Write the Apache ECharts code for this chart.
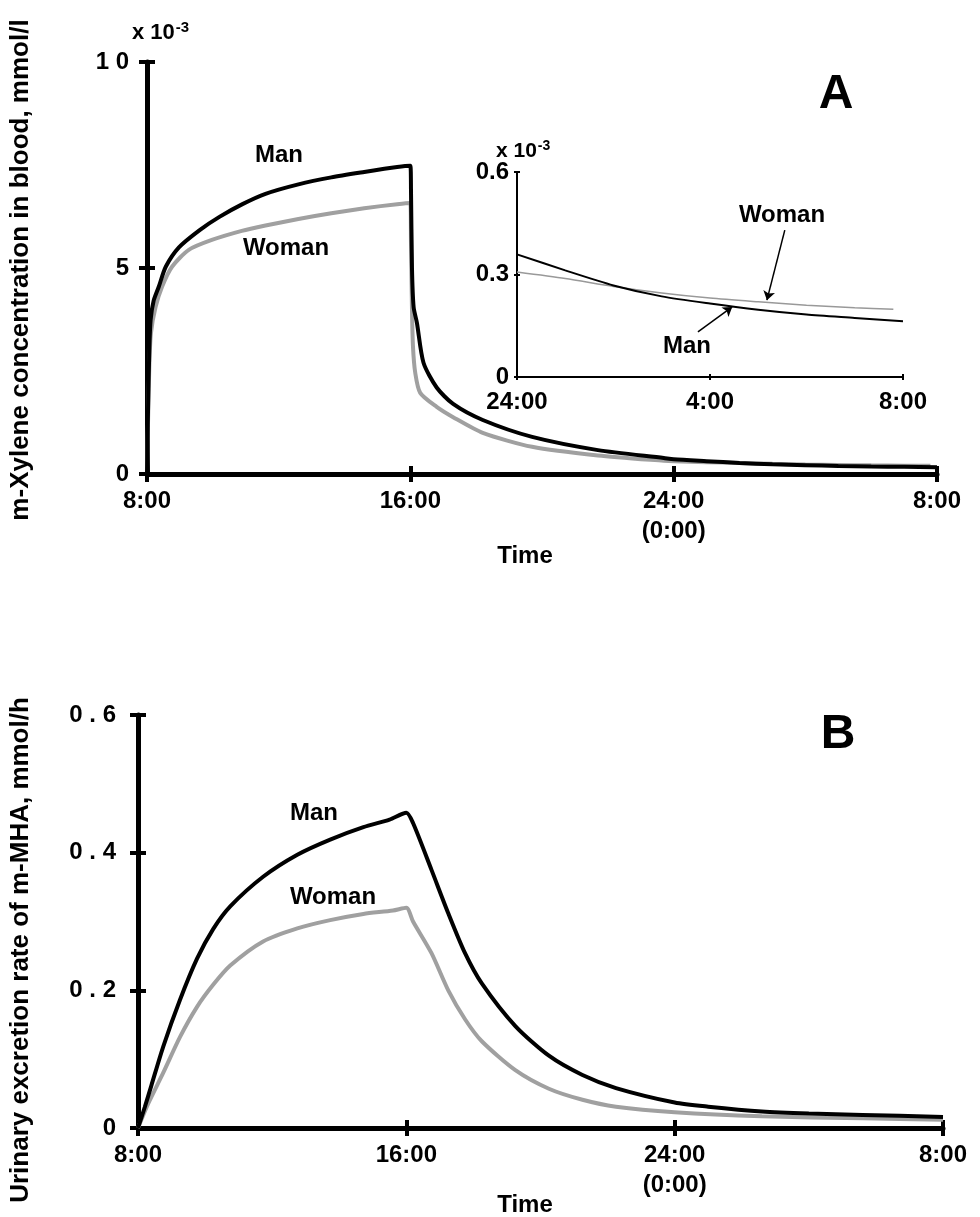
<!DOCTYPE html>
<html>
<head>
<meta charset="utf-8">
<script src="https://cdn.jsdelivr.net/npm/echarts@6/dist/echarts.min.js"></script>
<style>
html, body { margin: 0; padding: 0; background: #fff; }
#container { width: 980px; height: 1217px; }
</style>
</head>
<body>
<div id="container"></div>
<script>
// time is hours after 8:00 (0 = 8:00, 8 = 16:00, 16 = 24:00, 24 = 8:00 next day)
var xTickValues = [0, 8, 16, 24];
var xTickText = ['8:00', '16:00', '24:00\n(0:00)', '8:00'];
var insetTickValues = [16, 20, 24];
var insetTickText = ['24:00', '4:00', '8:00'];

// A: m-xylene in blood, x 10^-3 mmol/l
var manA_t = [0, 0.03, 0.07, 0.11, 0.2, 0.36, 0.57, 0.97, 1.6, 2.2, 2.9, 3.6, 4.6, 5.6, 6.6, 7.6, 8.0,
  8.02, 8.05, 8.1, 8.2, 8.4, 8.8, 9.3, 10.2, 11.7, 13.7, 15.7, 16, 17, 18, 19, 20, 21, 22, 23, 24];
var manA_v = [0, 1.5, 3.0, 3.74, 4.2, 4.55, 5.03, 5.5, 5.92, 6.24, 6.55, 6.8, 7.03, 7.2, 7.33, 7.45, 7.48,
  6.9, 5.0, 4.05, 3.67, 2.7, 2.1, 1.7, 1.31, 0.9, 0.58, 0.39, 0.359, 0.312, 0.268, 0.236, 0.215, 0.197, 0.183, 0.173, 0.163];
var womanA_t = [0, 0.03, 0.07, 0.12, 0.26, 0.46, 0.76, 1.27, 1.97, 2.88, 3.6, 4.6, 5.6, 6.6, 7.6, 8.0,
  8.02, 8.05, 8.08, 8.15, 8.3, 8.8, 9.3, 10.2, 11.7, 13.7, 15.7, 16, 17, 18, 19, 20, 21, 22, 23, 23.8];
var womanA_v = [0, 1.2, 2.6, 3.42, 4.05, 4.55, 5.03, 5.44, 5.68, 5.9, 6.03, 6.19, 6.33, 6.45, 6.55, 6.58,
  5.6, 4.0, 3.1, 2.45, 1.97, 1.63, 1.38, 1.0, 0.66, 0.45, 0.32, 0.307, 0.288, 0.265, 0.246, 0.231, 0.22, 0.21, 0.203, 0.198];

// B: urinary excretion rate of m-MHA, mmol/h
var manB_t = [0, 0.2, 0.4, 0.75, 1.25, 1.76, 2.24, 2.75, 3.73, 4.75, 5.73, 6.72, 7.5, 8.0,
  8.2, 8.75, 9.25, 9.75, 10.25, 11.25, 12.25, 13.25, 14.25, 16, 17, 18.6, 20, 21.6, 24];
var manB_v = [0, 0.03, 0.062, 0.118, 0.186, 0.246, 0.289, 0.322, 0.365, 0.397, 0.419, 0.437, 0.448, 0.458,
  0.443, 0.375, 0.312, 0.254, 0.21, 0.148, 0.105, 0.077, 0.058, 0.037, 0.031, 0.024, 0.021, 0.019, 0.016];
var womanB_t = [0, 0.3, 0.75, 1.25, 1.76, 2.24, 2.75, 3.73, 4.75, 5.73, 6.72, 7.6, 8.0,
  8.2, 8.75, 9.25, 9.75, 10.25, 11.25, 12.25, 13.25, 14.25, 16, 18.6, 21.6, 24];
var womanB_v = [0, 0.035, 0.08, 0.132, 0.176, 0.208, 0.236, 0.271, 0.29, 0.302, 0.311, 0.316, 0.32,
  0.30, 0.254, 0.20, 0.158, 0.126, 0.084, 0.057, 0.041, 0.031, 0.023, 0.017, 0.014, 0.012];

function pairs(t, v, from) {
  var out = [];
  for (var i = 0; i < t.length; i++) {
    if (from === undefined || t[i] >= from) out.push([t[i], v[i]]);
  }
  return out;
}

var FONT = '"Liberation Sans", Arial, Helvetica, sans-serif';
var dom = document.getElementById('container');
var myChart = echarts.init(dom, null, { renderer: 'canvas' });

function xLabel(v) {
  var i = xTickValues.indexOf(v);
  return i < 0 ? '' : xTickText[i];
}
function insetLabel(v) {
  var i = insetTickValues.indexOf(v);
  return i < 0 ? '' : insetTickText[i];
}

// main axis (line + outer ticks + labels)
function mainX(grid) {
  return {
    gridIndex: grid, type: 'value', min: 0, max: 24, interval: 8,
    axisLine: { onZero: false, lineStyle: { color: '#000', width: 5 } },
    axisTick: { length: 8, lineStyle: { color: '#000', width: 4 } },
    splitLine: { show: false },
    axisLabel: {
      formatter: xLabel, color: '#000', fontFamily: FONT, fontWeight: 'bold',
      fontSize: 24, lineHeight: 30, margin: 12, showMinLabel: true, showMaxLabel: true
    }
  };
}
function mainY(grid, max, interval, fmt, margin) {
  return {
    gridIndex: grid, type: 'value', min: 0, max: max, interval: interval,
    axisLine: { onZero: false, lineStyle: { color: '#000', width: 5 } },
    axisTick: { length: 8, lineStyle: { color: '#000', width: 4 } },
    splitLine: { show: false },
    axisLabel: {
      formatter: fmt, color: '#000', fontFamily: FONT, fontWeight: 'bold',
      fontSize: 24, margin: margin, showMinLabel: true, showMaxLabel: true
    }
  };
}
// inner half of the crossing ticks
function tickOnly(grid, min, max, interval, len, w) {
  return {
    gridIndex: grid, type: 'value', min: min, max: max, interval: interval,
    axisLine: { show: false },
    axisTick: { inside: true, length: len, lineStyle: { color: '#000', width: w } },
    axisLabel: { show: false },
    splitLine: { show: false }
  };
}
function curve(name, xi, data, color, width, z) {
  return {
    name: name, type: 'line', xAxisIndex: xi, yAxisIndex: xi, data: data,
    showSymbol: false, smooth: 0.25,
    lineStyle: { color: color, width: width }, z: z
  };
}

var gA = { left: 147, top: 62, width: 790, height: 412 };
var gI = { left: 517, top: 172, width: 386, height: 205 };
var gB = { left: 138, top: 715, width: 805, height: 413 };

function txt(x, y, s, size) {
  return {
    type: 'text', x: x, y: y, z: 100,
    style: { text: s, font: 'bold ' + size + 'px ' + FONT, fill: '#000', align: 'center', verticalAlign: 'middle' }
  };
}

var insetMan = curve('Man', 2, pairs(manA_t, manA_v, 16), '#000', 2, 3);
insetMan.markLine = {
  silent: true, symbol: ['none', 'arrow'], symbolSize: 9,
  label: { show: false },
  lineStyle: { color: '#000', width: 1.5, type: 'solid' },
  data: [
    [{ coord: [21.55, 0.43] }, { coord: [21.18, 0.225] }],
    [{ coord: [19.75, 0.132] }, { coord: [20.46, 0.205] }]
  ]
};

var option = {
  animation: false,
  backgroundColor: '#fff',
  grid: [
    { left: gA.left, top: gA.top, width: gA.width, height: gA.height },
    { left: gA.left, top: gA.top, width: gA.width, height: gA.height },
    { left: gI.left, top: gI.top, width: gI.width, height: gI.height },
    { left: gI.left, top: gI.top, width: gI.width, height: gI.height },
    { left: gB.left, top: gB.top, width: gB.width, height: gB.height },
    { left: gB.left, top: gB.top, width: gB.width, height: gB.height }
  ],
  xAxis: [
    mainX(0),
    tickOnly(1, 0, 24, 8, 8, 4),
    {
      gridIndex: 2, type: 'value', min: 16, max: 24, interval: 4,
      axisLine: { onZero: false, lineStyle: { color: '#000', width: 2 } },
      axisTick: { length: 3, lineStyle: { color: '#000', width: 2 } },
      splitLine: { show: false },
      axisLabel: {
        formatter: insetLabel, color: '#000', fontFamily: FONT, fontWeight: 'bold',
        fontSize: 24, margin: 13, showMinLabel: true, showMaxLabel: true
      }
    },
    tickOnly(3, 16, 24, 4, 3, 2),
    mainX(4),
    tickOnly(5, 0, 24, 8, 8, 4)
  ],
  yAxis: [
    mainY(0, 10, 5, function (v) { return v === 10 ? '1 0' : String(v); }, 18),
    tickOnly(1, 0, 10, 5, 8, 4),
    {
      gridIndex: 2, type: 'value', min: 0, max: 0.6, interval: 0.3,
      axisLine: { onZero: false, lineStyle: { color: '#000', width: 2 } },
      axisTick: { length: 3, lineStyle: { color: '#000', width: 2 } },
      splitLine: { show: false },
      axisLabel: {
        formatter: function (v) { return v === 0 ? '0' : v.toFixed(1); },
        color: '#000', fontFamily: FONT, fontWeight: 'bold', fontSize: 24, margin: 8,
        showMinLabel: true, showMaxLabel: true
      }
    },
    tickOnly(3, 0, 0.6, 0.3, 3, 2),
    mainY(4, 0.6, 0.2, function (v) { return v === 0 ? '0' : v.toFixed(1).split('').join(' '); }, 22),
    tickOnly(5, 0, 0.6, 0.2, 8, 4)
  ],
  series: [
    curve('Woman', 0, pairs(womanA_t, womanA_v), '#a0a0a0', 4, 2),
    curve('Man', 0, pairs(manA_t, manA_v), '#000', 4, 3),
    curve('Woman', 2, pairs(womanA_t, womanA_v, 16), '#999', 1.5, 2),
    insetMan,
    curve('Woman', 4, pairs(womanB_t, womanB_v), '#a0a0a0', 4, 2),
    curve('Man', 4, pairs(manB_t, manB_v), '#000', 4, 3)
  ],
  graphic: [
    txt(525, 556, 'Time', 24),
    txt(525, 1205, 'Time', 24),
    txt(836, 95, 'A', 48),
    txt(838, 735, 'B', 48),
    txt(279, 155, 'Man', 24),
    txt(286, 248, 'Woman', 24),
    txt(314, 813, 'Man', 24),
    txt(333, 897, 'Woman', 24),
    txt(782, 215, 'Woman', 24),
    txt(687, 346, 'Man', 24),
    {
      type: 'text', x: 132, y: 45, z: 100,
      style: {
        text: '{a|x 10}{s|-3}', verticalAlign: 'bottom', align: 'left',
        rich: {
          a: { font: 'bold 22px ' + FONT, fill: '#000' },
          s: { font: 'bold 15px ' + FONT, fill: '#000', verticalAlign: 'top', padding: [0, 0, 10, 1] }
        }
      }
    },
    {
      type: 'text', x: 496, y: 163, z: 100,
      style: {
        text: '{a|x 10}{s|-3}', verticalAlign: 'bottom', align: 'left',
        rich: {
          a: { font: 'bold 21px ' + FONT, fill: '#000' },
          s: { font: 'bold 14px ' + FONT, fill: '#000', verticalAlign: 'top', padding: [0, 0, 10, 1] }
        }
      }
    }
  ]
};

// vertical axis titles
var titleA = txt(21, 270, 'm-Xylene concentration in blood, mmol/l', 26);
titleA.rotation = Math.PI / 2;
var titleB = txt(21, 950, 'Urinary excretion rate of m-MHA, mmol/h', 26);
titleB.rotation = Math.PI / 2;
option.graphic.push(titleA, titleB);

myChart.setOption(option);
</script>
</body>
</html>
